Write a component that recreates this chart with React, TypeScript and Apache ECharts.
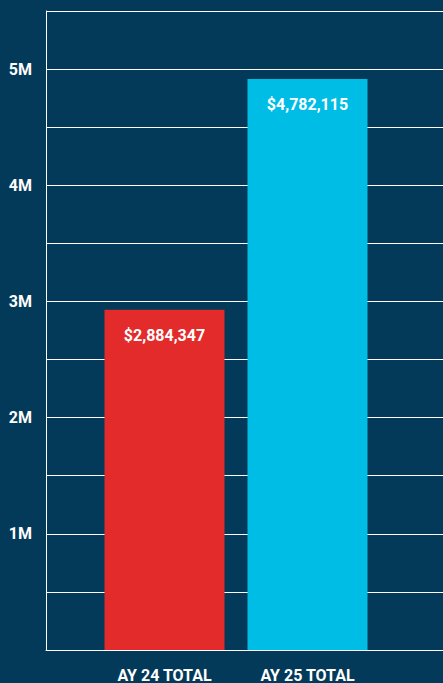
import React, { useEffect, useRef } from "react";
import * as echarts from "echarts";

const categories = ["AY 24 TOTAL", "AY 25 TOTAL"];
const barValues = [2928000, 4915000];
const barLabels = ["$2,884,347", "$4,782,115"];
const barColors = ["#e22b2a", "#00bde6"];
const yMax = 5500000;
const yInterval = 500000;

const FONT = "Roboto, 'Liberation Sans', sans-serif";

export default function App() {
  const ref = useRef<HTMLDivElement>(null);
  useEffect(() => {
    document.body.style.margin = "0";
    const chart = echarts.init(ref.current!, null, { renderer: "svg" });
    chart.setOption({
      animation: false,
      backgroundColor: "#033a59",
      grid: [
        { left: 46, right: -2, top: 11, bottom: 33 },
        { left: 93, width: 286, top: 11, bottom: 33 },
      ],
      xAxis: [
        {
          type: "category",
          gridIndex: 0,
          data: [""],
          axisLine: { show: true, lineStyle: { color: "#ffffff", width: 1 } },
          axisTick: { show: false },
          axisLabel: { show: false },
        },
        {
          type: "category",
          gridIndex: 1,
          data: categories,
          axisLine: { show: false },
          axisTick: { show: false },
          axisLabel: {
            interval: 0,
            color: "#ffffff",
            fontFamily: FONT,
            fontWeight: "bold",
            fontSize: 16,
            margin: 17,
          },
        },
      ],
      yAxis: [
        {
          type: "value",
          gridIndex: 0,
          min: 0,
          max: yMax,
          interval: yInterval,
          axisLine: { show: true, lineStyle: { color: "#ffffff", width: 1 } },
          axisTick: { show: false },
          splitLine: { show: true, lineStyle: { color: "#ffffff", width: 1 } },
          axisLabel: {
            color: "#ffffff",
            fontFamily: FONT,
            fontWeight: "bold",
            fontSize: 16,
            margin: 14,
            formatter: (v: number) =>
              v > 0 && v % 1000000 === 0 ? v / 1000000 + "M" : "",
          },
        },
        {
          type: "value",
          gridIndex: 1,
          min: 0,
          max: yMax,
          interval: yInterval,
          show: false,
          splitLine: { show: false },
        },
      ],
      series: [
        {
          type: "bar",
          xAxisIndex: 1,
          yAxisIndex: 1,
          barWidth: 120,
          data: barValues.map((v, i) => ({
            value: v,
            itemStyle: { color: barColors[i] },
          })),
          label: {
            show: true,
            position: "insideTop",
            distance: 18,
            color: "#ffffff",
            fontFamily: FONT,
            fontWeight: "bold",
            fontSize: 16,
            formatter: (p: any) => barLabels[p.dataIndex],
          },
        },
      ],
    });
    return () => chart.dispose();
  }, []);
  return <div ref={ref} style={{ width: 443, height: 683 }} />;
}
